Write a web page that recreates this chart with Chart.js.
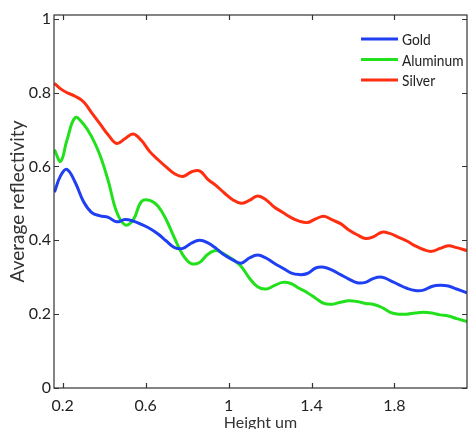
<!DOCTYPE html>
<html>
<head>
<meta charset="utf-8">
<script src="https://cdn.jsdelivr.net/npm/chart.js@4.4.0/dist/chart.umd.min.js"></script>
<style>
    html, body { margin:0; padding:0; background:#fff; }
    #wrap { width:468px; height:429px; }
</style>
</head>
<body>
<div id="wrap"><canvas id="reflect-chart" width="468" height="429"></canvas></div>
<script>
// height (um) where the curves were sampled
let heights = [0.16,0.19,0.22,0.26,0.30,0.34,0.38,0.42,0.46,0.50,0.54,0.58,0.62,0.66,0.70,0.74,0.78,0.82,0.86,0.90,
    0.94,0.98,1.02,1.06,1.10,1.14,1.18,1.22,1.26,1.30,1.34,1.38,1.42,1.46,1.50,1.54,1.58,1.62,1.66,1.70,
    1.74,1.78,1.82,1.86,1.90,1.94,1.98,2.02,2.06,2.10,2.15];

let gold = [0.53,0.575,0.592,0.557,0.505,0.475,0.466,0.462,0.45,0.456,0.452,0.443,0.432,0.417,0.398,0.38,0.378,0.392,0.40,0.393,
    0.378,0.36,0.347,0.338,0.352,0.36,0.352,0.338,0.325,0.312,0.307,0.31,0.325,0.327,0.319,0.307,0.295,0.285,0.286,0.297,
    0.30,0.291,0.28,0.27,0.264,0.265,0.275,0.278,0.276,0.268,0.258];

let aluminum = [0.645,0.614,0.67,0.732,0.715,0.68,0.63,0.56,0.477,0.442,0.455,0.505,0.508,0.492,0.455,0.405,0.36,0.337,0.34,0.362,
    0.372,0.362,0.348,0.33,0.298,0.274,0.268,0.277,0.286,0.283,0.27,0.258,0.243,0.229,0.227,0.232,0.236,0.234,0.229,0.226,
    0.218,0.205,0.20,0.20,0.203,0.205,0.203,0.198,0.195,0.188,0.18];

let silver = [0.825,0.81,0.80,0.79,0.775,0.745,0.715,0.685,0.662,0.675,0.688,0.67,0.64,0.618,0.598,0.58,0.573,0.585,0.588,0.565,
    0.548,0.528,0.51,0.50,0.508,0.52,0.51,0.49,0.476,0.462,0.452,0.448,0.458,0.465,0.455,0.445,0.428,0.415,0.405,0.41,
    0.422,0.418,0.408,0.398,0.385,0.375,0.37,0.378,0.385,0.38,0.372];

let seriesNames = ['Gold', 'Aluminum', 'Silver'];
let xTicks = [0.2, 0.6, 1, 1.4, 1.8];
let yTicks = [0, 0.2, 0.4, 0.6, 0.8, 1];

let fontFam = "Lato, 'Open Sans', sans-serif";

function toPoints(values){
    let pts = [];
    heights.forEach(function (h, i){
        pts.push({x: h, y: values[i]});
    })
    return pts;
}

// matlab-ish box: inward ticks on all four sides
let boxPlugin = {
    id: 'boxTicks',
    afterDraw: function (chart){
        let ctx = chart.ctx;
        let a = chart.chartArea;
        let xs = chart.scales.x;
        let ys = chart.scales.y;
        let len = 5;
        ctx.save();
        ctx.strokeStyle = '#333';
        ctx.lineWidth = 1.2;
        ctx.strokeRect(a.left, a.top, a.right - a.left, a.bottom - a.top);
        ctx.beginPath();
        xTicks.forEach(function (v){
            let px = Math.round(xs.getPixelForValue(v)) + 0.5;
            ctx.moveTo(px, a.bottom); ctx.lineTo(px, a.bottom - len);
            ctx.moveTo(px, a.top); ctx.lineTo(px, a.top + len);
        })
        yTicks.forEach(function (v){
            let py = Math.round(ys.getPixelForValue(v)) + 0.5;
            ctx.moveTo(a.left, py); ctx.lineTo(a.left + len, py);
            ctx.moveTo(a.right, py); ctx.lineTo(a.right - len, py);
        })
        ctx.stroke();

        // legend, top right inside the box
        let lx = 361, ly = 39, gap = 20.5;
        ctx.font = '16px ' + fontFam;
        ctx.textBaseline = 'middle';
        ctx.fillStyle = '#222';
        chart.data.datasets.forEach(function (ds, i){
            let y = ly + i * gap;
            ctx.strokeStyle = ds.borderColor;
            ctx.lineWidth = 3;
            ctx.beginPath();
            ctx.moveTo(lx, y); ctx.lineTo(lx + 37, y);
            ctx.stroke();
            // narrow the label a little, the original font is condensed
            ctx.save();
            ctx.translate(lx + 41, y + 1);
            ctx.scale(0.86, 1);
            ctx.fillText(ds.label, 0, 0);
            ctx.restore();
        })
        ctx.restore();
    }
}

let colors = ['#1f3ff2', '#22e01c', '#ff2e10'];
let dataSets = [gold, aluminum, silver].map(function (vals, i){
    return {
        label: seriesNames[i],
        data: toPoints(vals),
        borderColor: colors[i],
        borderWidth: 3,
        pointRadius: 0,
        tension: 0.4,
        fill: false
    }
});

let myChart = new Chart(document.getElementById('reflect-chart').getContext('2d'), {
    type: 'line',
    data: { datasets: dataSets },
    plugins: [boxPlugin],
    options: {
        responsive: false,
        animation: false,
        layout: { padding: { left: 0, right: 1, top: 15, bottom: 0 } },
        plugins: { legend: { display: false }, tooltip: { enabled: false } },
        scales: {
            x: {
                type: 'linear',
                min: 0.158,
                max: 2.15,
                afterBuildTicks: function (scale){
                    scale.ticks = xTicks.map(function (v){ return {value: v}; });
                },
                afterFit: function (scale){ scale.height = 41; },
                grid: { display: false, drawTicks: false },
                border: { display: false },
                ticks: {
                    padding: 8,
                    color: '#222',
                    font: { family: fontFam, size: 16 },
                    callback: function (v){ return String(v); }
                },
                title: {
                    display: true,
                    text: 'Height um',
                    color: '#333',
                    padding: { top: 0, bottom: -3 },
                    font: { family: fontFam, size: 16 }
                }
            },
            y: {
                min: 0,
                max: 1.01,
                afterBuildTicks: function (scale){
                    scale.ticks = yTicks.map(function (v){ return {value: v}; });
                },
                afterFit: function (scale){ scale.width = 54; },
                grid: { display: false, drawTicks: false },
                border: { display: false },
                ticks: {
                    padding: 3,
                    color: '#222',
                    font: { family: fontFam, size: 16 },
                    callback: function (v){ return String(v); }
                },
                title: {
                    display: true,
                    text: 'Average reflectivity',
                    color: '#333',
                    padding: { top: 6, bottom: 0 },
                    font: { family: fontFam, size: 19 }
                }
            }
        }
    }
});
</script>
</body>
</html>
